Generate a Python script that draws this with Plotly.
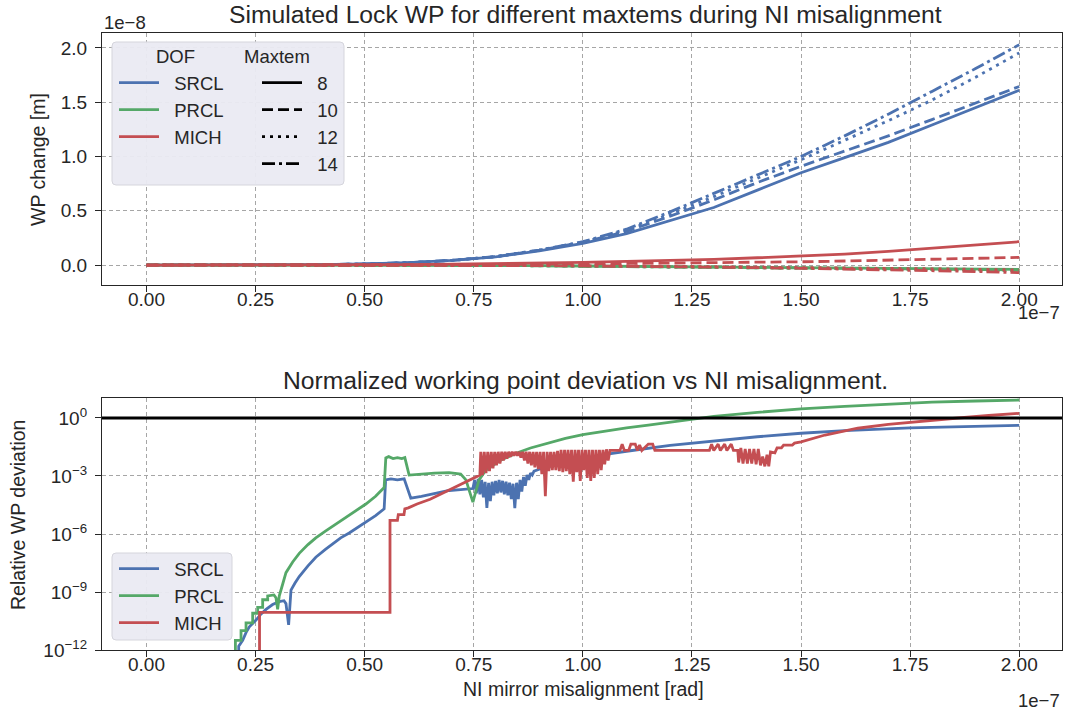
import plotly.graph_objects as go

# ---------------- DATA ----------------
# Top panel: misalignment in units of 1e-7 rad, WP change in units of 1e-8 m
wp_x = [0.0, 0.1, 0.2, 0.3, 0.4, 0.5, 0.6, 0.7, 0.8, 0.9, 1.0,
        1.1, 1.2, 1.3, 1.4, 1.5, 1.6, 1.7, 1.8, 1.9, 2.0]

maxtems = ["8", "10", "12", "14"]

srcl_wp = {
    "8":  [0, 0, 0, 0.001, 0.004, 0.01, 0.022, 0.042, 0.075, 0.13, 0.20, 0.29, 0.41, 0.53, 0.69, 0.85, 0.99, 1.13, 1.29, 1.45, 1.61],
    "10": [0, 0, 0, 0.001, 0.004, 0.01, 0.022, 0.043, 0.077, 0.135, 0.21, 0.31, 0.45, 0.60, 0.76, 0.91, 1.05, 1.19, 1.34, 1.49, 1.645],
    "12": [0, 0, 0, 0.001, 0.004, 0.01, 0.022, 0.043, 0.078, 0.137, 0.21, 0.32, 0.47, 0.63, 0.80, 0.97, 1.15, 1.33, 1.52, 1.73, 1.955],
    "14": [0, 0, 0, 0.001, 0.004, 0.01, 0.022, 0.043, 0.078, 0.138, 0.215, 0.33, 0.49, 0.66, 0.83, 1.00, 1.19, 1.39, 1.60, 1.81, 2.03],
}
prcl_wp = {
    "8":  [0, 0, 0, 0, 0, 0, -0.001, -0.002, -0.004, -0.006, -0.009, -0.012, -0.015, -0.018, -0.021, -0.024, -0.028, -0.031, -0.034, -0.037, -0.040],
    "10": [0, 0, 0, 0, 0, 0, -0.001, -0.002, -0.004, -0.006, -0.009, -0.012, -0.016, -0.019, -0.023, -0.026, -0.030, -0.034, -0.037, -0.041, -0.045],
    "12": [0, 0, 0, 0, 0, 0, -0.001, -0.002, -0.004, -0.007, -0.010, -0.013, -0.017, -0.021, -0.025, -0.029, -0.033, -0.037, -0.041, -0.046, -0.050],
    "14": [0, 0, 0, 0, 0, 0, -0.001, -0.002, -0.004, -0.007, -0.010, -0.013, -0.017, -0.021, -0.025, -0.029, -0.033, -0.037, -0.042, -0.046, -0.050],
}
mich_wp = {
    "8":  [0, 0, 0, 0, 0.001, 0.002, 0.004, 0.008, 0.012, 0.018, 0.025, 0.033, 0.042, 0.053, 0.067, 0.085, 0.10, 0.125, 0.155, 0.185, 0.215],
    "10": [0, 0, 0, 0, 0, 0.001, 0.002, 0.003, 0.005, 0.007, 0.010, 0.013, 0.017, 0.021, 0.025, 0.030, 0.037, 0.045, 0.053, 0.062, 0.070],
    "12": [0, 0, 0, 0, 0, 0, -0.001, -0.002, -0.003, -0.004, -0.006, -0.008, -0.011, -0.014, -0.017, -0.021, -0.025, -0.030, -0.035, -0.040, -0.045],
    "14": [0, 0, 0, 0, 0, 0, -0.001, -0.002, -0.003, -0.005, -0.008, -0.011, -0.015, -0.019, -0.024, -0.030, -0.036, -0.043, -0.050, -0.060, -0.070],
}

# Bottom panel: misalignment (1e-7 rad) and log10 of relative WP deviation
srcl_dev_x = [0.2113, 0.2113, 0.2204, 0.228, 0.2357, 0.245, 0.251, 0.262, 0.2739, 0.289, 0.3043, 0.315, 0.3196, 0.3257,
              0.3311, 0.34, 0.350, 0.37, 0.388, 0.41, 0.4264, 0.445, 0.4645, 0.485, 0.5027, 0.525, 0.5446, 0.548, 0.56,
              0.575, 0.5904, 0.6057, 0.63, 0.66, 0.6934, 0.72, 0.745,
              0.748, 0.752, 0.756, 0.760, 0.764, 0.768, 0.772, 0.776, 0.780, 0.784, 0.788, 0.792, 0.796, 0.800, 0.804,
              0.808, 0.812, 0.816, 0.820, 0.824, 0.828, 0.832, 0.836, 0.840, 0.844, 0.848, 0.852, 0.856, 0.860, 0.864,
              0.868, 0.872, 0.876, 0.880, 0.884, 0.888,
              0.9, 0.95, 1.0, 1.06, 1.1, 1.2, 1.25, 1.3, 1.4, 1.5, 1.6, 1.75, 1.9, 2.0]
srcl_dev_log10 = [-13, -11.8, -11.5, -11.1, -10.8, -10.6, -10.45, -10.15, -9.9, -9.65, -9.5, -9.45, -9.6, -10.7,
                  -8.9, -8.55, -8.2, -7.65, -7.2, -6.8, -6.5, -6.2, -5.95, -5.65, -5.4, -5.05, -4.7, -3.2, -3.15,
                  -3.2, -3.15, -4.15, -4.05, -3.9, -3.75, -3.7, -3.65,
                  -3.65, -3.2, -3.9, -3.15, -3.95, -3.2, -4.1, -3.3, -4.65, -3.35, -4.3, -3.3, -4.0, -3.25, -3.9,
                  -3.2, -3.85, -3.25, -3.95, -3.3, -4.0, -3.35, -4.2, -3.4, -4.66, -3.35, -4.2, -3.2, -3.8, -3.05,
                  -3.5, -2.95, -3.2, -2.85, -2.95, -2.75,
                  -2.65, -2.35, -2.1, -1.86, -1.72, -1.42, -1.31, -1.18, -0.97, -0.79, -0.65, -0.51, -0.42, -0.38]

prcl_dev_x = [0.2037, 0.2037, 0.2166, 0.2166, 0.2281, 0.2281, 0.2433, 0.2433, 0.2548, 0.2548, 0.2662, 0.2662,
              0.2777, 0.2777, 0.292, 0.2967, 0.3005, 0.3043, 0.312, 0.3196, 0.335, 0.350, 0.37, 0.388, 0.41, 0.4264,
              0.445, 0.4645, 0.485, 0.5027, 0.525, 0.5446, 0.5484, 0.555, 0.565, 0.575, 0.585, 0.592, 0.6018, 0.63,
              0.66, 0.6934, 0.72, 0.732, 0.748, 0.762, 0.778, 0.81, 0.85, 0.88, 0.92, 0.96, 1.0, 1.05, 1.1, 1.15,
              1.2, 1.265, 1.3, 1.4, 1.5, 1.6, 1.7, 1.75, 1.8, 1.9, 2.0]
prcl_dev_log10 = [-13, -11.5, -11.5, -11.0, -11.0, -10.6, -10.6, -10.1, -10.1, -9.8, -9.8, -9.4,
                  -9.4, -9.2, -9.15, -9.3, -9.9, -9.2, -8.6, -8.0, -7.45, -7.0, -6.55, -6.2, -5.85, -5.6,
                  -5.3, -5.0, -4.7, -4.45, -4.05, -3.6, -2.07, -2.0, -2.1, -2.05, -2.1, -2.05, -2.95, -2.9,
                  -2.85, -2.83, -2.9, -3.2, -4.35, -3.2, -2.69, -2.2, -1.8, -1.55, -1.28, -1.05, -0.86, -0.67, -0.51, -0.37,
                  -0.22, 0.0, 0.08, 0.29, 0.47, 0.6, 0.72, 0.78, 0.82, 0.88, 0.93]

mich_dev_x = [0.259, 0.259, 0.558, 0.558, 0.575, 0.577, 0.59, 0.592, 0.60, 0.62, 0.65, 0.69, 0.72, 0.74, 0.764,
              0.766, 0.770, 0.774, 0.778, 0.782, 0.786, 0.790, 0.794, 0.798, 0.802, 0.806, 0.810, 0.814, 0.818,
              0.822, 0.826, 0.830, 0.834, 0.838, 0.842, 0.846, 0.850, 0.854, 0.858, 0.862, 0.866, 0.870, 0.874,
              0.878, 0.882, 0.886, 0.890, 0.894, 0.898, 0.902, 0.906, 0.910, 0.914, 0.918, 0.922, 0.926, 0.930,
              0.934, 0.938, 0.942, 0.946, 0.950, 0.954, 0.958, 0.962, 0.966, 0.970, 0.974, 0.978, 0.982, 0.986,
              0.990, 0.994, 0.998, 1.002, 1.006, 1.010, 1.014, 1.018, 1.022, 1.026, 1.030, 1.034, 1.038, 1.042,
              1.046, 1.050, 1.054, 1.058, 1.062,
              1.085, 1.09, 1.095, 1.105, 1.11, 1.12, 1.125, 1.13, 1.135, 1.15, 1.16, 1.165, 1.29, 1.295, 1.30,
              1.31, 1.315, 1.325, 1.33, 1.34, 1.345, 1.355,
              1.357, 1.362, 1.367, 1.372, 1.377, 1.382, 1.387, 1.392, 1.397, 1.402, 1.407, 1.412, 1.417, 1.422,
              1.426, 1.43, 1.44, 1.445, 1.455, 1.46, 1.48, 1.485, 1.5, 1.555, 1.63, 1.7, 1.75, 1.8, 1.86, 1.93, 2.0]
mich_dev_log10 = [-13, -10.05, -10.05, -5.3, -5.3, -5.0, -5.0, -4.7, -4.65, -4.45, -4.2, -3.75, -3.45, -3.2, -2.95,
                  -1.75, -2.95, -1.75, -2.85, -1.75, -2.75, -1.75, -2.6, -1.75, -2.45, -1.75, -2.35, -1.75, -2.2,
                  -1.75, -2.1, -1.75, -2.0, -1.75, -1.95, -1.75, -1.95, -1.75, -2.05, -1.75, -2.2, -1.75, -2.35,
                  -1.75, -2.45, -1.75, -2.55, -1.75, -2.65, -1.75, -2.9, -1.75, -4.05, -1.75, -2.75, -1.75, -2.7,
                  -1.75, -2.7, -1.7, -2.75, -1.65, -2.8, -1.65, -2.75, -1.65, -2.9, -1.65, -3.3, -1.65, -2.8,
                  -1.65, -3.25, -1.65, -2.7, -1.65, -3.1, -1.65, -3.25, -1.65, -3.1, -1.65, -2.9, -1.65, -2.7,
                  -1.65, -2.4, -1.62, -2.2, -1.68,
                  -1.68, -1.35, -1.68, -1.68, -1.35, -1.35, -1.68, -1.4, -1.68, -1.35, -1.35, -1.68, -1.68, -1.35, -1.68,
                  -1.35, -1.68, -1.35, -1.68, -1.35, -1.68, -1.68,
                  -2.3, -1.55, -2.35, -1.6, -2.35, -1.6, -2.35, -1.6, -2.4, -1.6, -2.45, -2.0, -2.5, -1.9,
                  -2.5, -1.75, -1.8, -1.55, -1.55, -1.4, -1.4, -1.3, -1.23, -0.88, -0.53, -0.33, -0.22, -0.12, 0.0, 0.13, 0.24]

x_tick_vals = [0.0, 0.25, 0.5, 0.75, 1.0, 1.25, 1.5, 1.75, 2.0]
x_tick_text = ["0.00", "0.25", "0.50", "0.75", "1.00", "1.25", "1.50", "1.75", "2.00"]
wp_tick_vals = [0.0, 0.5, 1.0, 1.5, 2.0]
wp_tick_text = ["0.0", "0.5", "1.0", "1.5", "2.0"]
dev_tick_vals = [1e-12, 1e-9, 1e-6, 1e-3, 1.0]
dev_tick_text = ["10<sup>−12</sup>", "10<sup>−9</sup>", "10<sup>−6</sup>", "10<sup>−3</sup>", "10<sup>0</sup>"]

# ---------------- STYLE ----------------
W = 1072
H = 731          # the captured page is squeezed to 720 px high
REF_H = 720      # layout positions below are given in 1072x720 picture pixels
COL = {"SRCL": "#4C72B0", "PRCL": "#55A868", "MICH": "#C44E52"}
DASH = {"8": "solid", "10": "11px,5px", "12": "3px,5px", "14": "13px,4px,3px,4px"}
TXT = "#262626"
FONT = "Liberation Sans, Arial, sans-serif"
LW = 2.8
GAP = "\u00a0\u00a0"   # extra space between legend handle and label


def px(x):
    return x / W


def py(y):
    return 1 - y / REF_H


fig = go.Figure()

wp_data = {"SRCL": srcl_wp, "PRCL": prcl_wp, "MICH": mich_wp}
for dof in ["SRCL", "PRCL", "MICH"]:
    for m in maxtems:
        fig.add_trace(go.Scatter(x=wp_x, y=wp_data[dof][m], mode="lines",
                                 line=dict(color=COL[dof], width=LW, dash=DASH[m]),
                                 showlegend=False, xaxis="x", yaxis="y"))

# legend entries for top panel
for dof in ["SRCL", "PRCL", "MICH"]:
    fig.add_trace(go.Scatter(x=[None], y=[None], mode="lines", name=GAP + dof,
                             line=dict(color=COL[dof], width=LW), legend="legend",
                             xaxis="x", yaxis="y"))
for m in maxtems:
    fig.add_trace(go.Scatter(x=[None], y=[None], mode="lines", name=GAP + m,
                             line=dict(color="black", width=LW, dash=DASH[m]), legend="legend2",
                             xaxis="x", yaxis="y"))

dev = {
    "SRCL": (srcl_dev_x, srcl_dev_log10),
    "PRCL": (prcl_dev_x, prcl_dev_log10),
    "MICH": (mich_dev_x, mich_dev_log10),
}
for dof in ["SRCL", "PRCL", "MICH"]:
    xs, ls = dev[dof]
    fig.add_trace(go.Scatter(x=xs, y=[10 ** v for v in ls], mode="lines", name=GAP + dof,
                             line=dict(color=COL[dof], width=LW), legend="legend3",
                             xaxis="x2", yaxis="y2"))

axis_common = dict(showline=True, mirror=True, linecolor=TXT, linewidth=1.25,
                   ticks="outside", ticklen=6, tickwidth=1.25, tickcolor=TXT,
                   showgrid=True, gridcolor="#a6a6a6", gridwidth=1, griddash="4px,3px",
                   zeroline=False, tickfont=dict(size=19, color=TXT, family=FONT))

legend_common = dict(xanchor="left", yanchor="top", bgcolor="rgba(0,0,0,0)",
                     font=dict(size=18.5, color=TXT, family=FONT), itemwidth=40, borderwidth=0)

fig.update_layout(
    width=W, height=H, margin=dict(l=0, r=0, t=0, b=0),
    paper_bgcolor="white", plot_bgcolor="white",
    font=dict(family=FONT, color=TXT),
    xaxis=dict(domain=[px(102), px(1062)], anchor="y", range=[-0.102, 2.098],
               tickvals=x_tick_vals, ticktext=x_tick_text, ticklabelstandoff=-9, **axis_common),
    yaxis=dict(domain=[py(285), py(33)], anchor="x", range=[-0.184, 2.138],
               tickvals=wp_tick_vals, ticktext=wp_tick_text, ticklabelstandoff=4, **axis_common),
    xaxis2=dict(domain=[px(102), px(1062)], anchor="y2", range=[-0.102, 2.098],
                tickvals=x_tick_vals, ticktext=x_tick_text, ticklabelstandoff=-9, **axis_common),
    yaxis2=dict(domain=[py(650), py(398)], anchor="x2", type="log", range=[-12, 1.034],
                tickvals=dev_tick_vals, ticktext=dev_tick_text, ticklabelstandoff=4, **axis_common),
    legend=dict(x=px(114), y=py(64), **legend_common),
    legend2=dict(x=px(257), y=py(64), **legend_common),
    legend3=dict(x=px(114), y=py(550), **legend_common),
)


def rounded_rect(x0, y0, x1, y1, r=4):
    X = px
    Y = py
    return (f"M {X(x0 + r)} {Y(y0)} L {X(x1 - r)} {Y(y0)} Q {X(x1)} {Y(y0)} {X(x1)} {Y(y0 + r)} "
            f"L {X(x1)} {Y(y1 - r)} Q {X(x1)} {Y(y1)} {X(x1 - r)} {Y(y1)} "
            f"L {X(x0 + r)} {Y(y1)} Q {X(x0)} {Y(y1)} {X(x0)} {Y(y1 - r)} "
            f"L {X(x0)} {Y(y0 + r)} Q {X(x0)} {Y(y0)} {X(x0 + r)} {Y(y0)} Z")


shapes = [
    dict(type="path", xref="paper", yref="paper", path=rounded_rect(112, 42, 344, 185),
         fillcolor="rgba(234,234,242,0.95)", line=dict(color="#d5d5dc", width=1), layer="above"),
    dict(type="path", xref="paper", yref="paper", path=rounded_rect(112, 553, 232, 640),
         fillcolor="rgba(234,234,242,0.95)", line=dict(color="#d5d5dc", width=1), layer="above"),
    dict(type="line", xref="x2 domain", yref="y2", x0=0, x1=1, y0=1.0, y1=1.0,
         line=dict(color="black", width=3), layer="above"),
]
fig.update_layout(shapes=shapes)

annotations = [
    dict(text="Simulated Lock WP for different maxtems during NI misalignment", x=px(585), y=py(14),
         font=dict(size=24.7)),
    dict(text="Normalized working point deviation vs NI misalignment.", x=px(585), y=py(380),
         font=dict(size=24.7)),
    dict(text="WP change [m]", x=px(38), y=py(160), textangle=-90, font=dict(size=19.5)),
    dict(text="Relative WP deviation", x=px(18), y=py(515), textangle=-90, font=dict(size=19.5)),
    dict(text="NI mirror misalignment [rad]", x=px(583), y=py(689), font=dict(size=19.5)),
    dict(text="1e−8", x=px(102), y=py(22), xanchor="left", font=dict(size=18.5)),
    dict(text="1e−7", x=px(1062), y=py(312), xanchor="right", font=dict(size=18.5)),
    dict(text="1e−7", x=px(1062), y=py(700), xanchor="right", font=dict(size=18.5)),
    dict(text="DOF", x=px(175), y=py(57), font=dict(size=18.5)),
    dict(text="Maxtem", x=px(277), y=py(57), font=dict(size=18.5)),
]
for a in annotations:
    a.setdefault("xref", "paper")
    a.setdefault("yref", "paper")
    a.setdefault("xanchor", "center")
    a.setdefault("yanchor", "middle")
    a.setdefault("showarrow", False)
    a["font"] = dict(family=FONT, color=TXT, **a["font"])
fig.update_layout(annotations=annotations)

# remove the default 8px page margin so the figure sits at the window's corner
fig.write_html("out.html", config={"displayModeBar": False},
               post_script="document.body.style.margin='0';document.body.style.overflow='hidden';")
